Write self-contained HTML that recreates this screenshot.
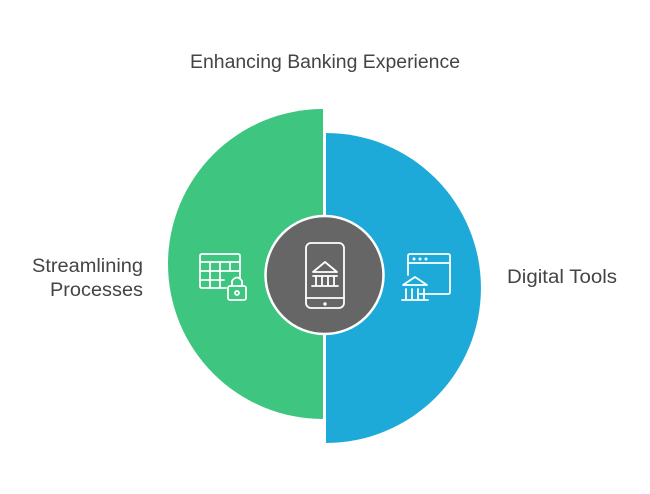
<!DOCTYPE html>
<html><head><style>
body{margin:0;background:#fff;width:650px;height:494px;overflow:hidden}
svg{display:block}
text{font-family:"Liberation Sans",Arial,sans-serif;fill:#444}
</style></head><body>
<svg width="650" height="494" viewBox="0 0 650 494" xmlns="http://www.w3.org/2000/svg">
<text x="190" y="68" font-size="19" textLength="270" lengthAdjust="spacingAndGlyphs">Enhancing Banking Experience</text>
<path d="M323,109 A155,155 0 0 0 323,419 Z" fill="#3ec681"/>
<path d="M326,133 A155,155 0 0 1 326,443 Z" fill="#1eaad9"/>
<circle cx="324.5" cy="275" r="59" fill="#666" stroke="#fff" stroke-width="2.5"/>
<text x="32" y="272" font-size="19" textLength="111" lengthAdjust="spacingAndGlyphs">Streamlining</text>
<text x="50" y="296" font-size="19" textLength="93" lengthAdjust="spacingAndGlyphs">Processes</text>
<text x="507" y="283" font-size="19" textLength="110" lengthAdjust="spacingAndGlyphs">Digital Tools</text>
<g fill="none" stroke="#fff" stroke-width="1.8" stroke-linecap="round" stroke-linejoin="round">
<rect x="306" y="243" width="38" height="65" rx="5"/>
<line x1="306" y1="298" x2="344" y2="298"/>
<circle cx="325" cy="304" r="0.8" fill="#fff"/>
<path d="M313,272 L325,262 L337,272 Z"/>
<line x1="313" y1="276" x2="337" y2="276"/>
<line x1="316" y1="276" x2="316" y2="285"/><line x1="322" y1="276" x2="322" y2="285"/><line x1="328" y1="276" x2="328" y2="285"/><line x1="334" y1="276" x2="334" y2="285"/>
<line x1="312" y1="286" x2="338" y2="286"/>
<path d="M226,288 L202,288 Q200,288 200,286 L200,256 Q200,254 202,254 L238,254 Q240,254 240,256 L240,278"/>
<line x1="200" y1="262" x2="240" y2="262"/>
<line x1="200" y1="271" x2="240" y2="271"/><line x1="200" y1="280" x2="224" y2="280"/>
<line x1="210" y1="262" x2="210" y2="288"/><line x1="220" y1="262" x2="220" y2="288"/><line x1="230" y1="262" x2="230" y2="271"/>
<rect x="228" y="286" width="18" height="14" rx="2"/>
<path d="M232,286 L232,281 Q237,274 242,281 L242,286"/>
<circle cx="237" cy="293" r="2"/>
<path d="M420,294 L448,294 Q450,294 450,292 L450,256 Q450,254 448,254 L410,254 Q408,254 408,256 L408,275"/>
<line x1="408" y1="263" x2="450" y2="263"/>
<circle cx="414" cy="259" r="0.6"/><circle cx="420" cy="259" r="0.6"/><circle cx="426" cy="259" r="0.6"/>
<path d="M403,285 L415,277 L427,285 Z"/>
<line x1="406" y1="289" x2="406" y2="299"/><line x1="412" y1="289" x2="412" y2="299"/><line x1="418" y1="289" x2="418" y2="299"/><line x1="424" y1="289" x2="424" y2="299"/>
<line x1="402" y1="300" x2="428" y2="300"/>
</g>
</svg>
</body></html>
